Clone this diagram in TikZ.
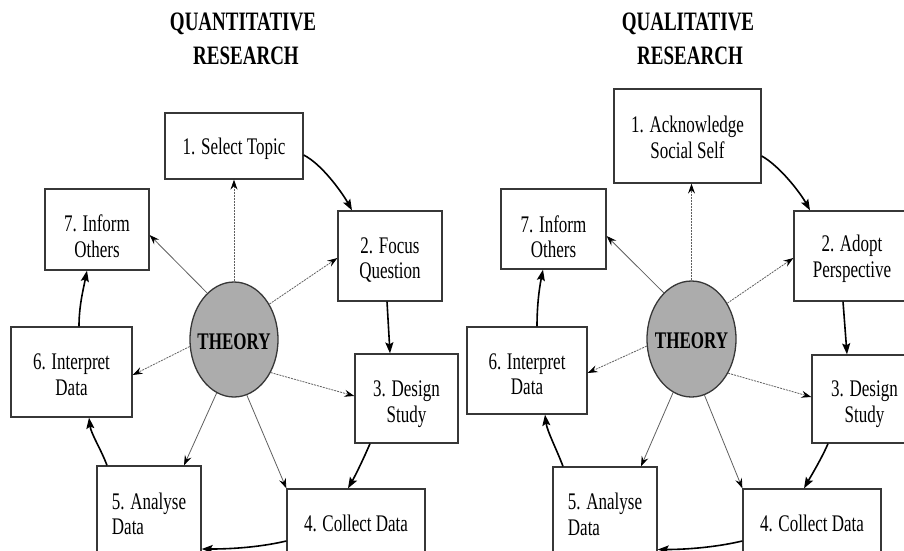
\documentclass[tikz,border=0pt]{standalone}
\usepackage{fontspec}
\usepackage{graphicx}
\setmainfont{Liberation Serif}
\usetikzlibrary{shapes.geometric,arrows.meta,calc}
\newcommand\vs[1]{\scalebox{1}[1.4]{#1}}
\newcommand\tx[1]{\scalebox{1}[1.4]{\begin{tabular}{@{}c@{}}#1\end{tabular}}}
\newcommand\txl[1]{\scalebox{1}[1.4]{\begin{tabular}{@{}l@{}}#1\end{tabular}}}
\definecolor{boxc}{RGB}{55,55,55}
\definecolor{thfill}{RGB}{172,172,172}
\definecolor{thc}{RGB}{95,95,95}
\begin{document}
\begin{tikzpicture}[x=1pt,y=-1pt,
  box/.style={draw=boxc, line width=1.3pt, fill=white, inner sep=0pt},
  txt/.style={inner sep=0pt, font=\fontsize{17}{17.9}\selectfont},
  ttl/.style={inner sep=0pt, font=\fontsize{19}{20}\selectfont\bfseries},
  theo/.style={ellipse, draw=boxc, line width=1.3pt, fill=thfill, inner sep=0pt},
  thr/.style={draw=thc, line width=0.8pt, -{Stealth[length=10pt,width=7pt,inset=3.5pt,black]}},
  thrd/.style={thr, dash pattern=on 2pt off 1pt},
  cyc/.style={draw=black, line width=1.6pt, -{Stealth[length=11pt,width=8pt,inset=2pt]}}]
\useasboundingbox (0,0) rectangle (904,550);
\clip (0,0) rectangle (904,550);

% titles
\node[ttl] (q1) at (243,24) {\vs{QUANTITATIVE}};
\node[ttl] (q2) at (246,56) {\vs{RESEARCH}};
\node[ttl] (l1) at (688,24) {\vs{QUALITATIVE}};
\node[ttl] (l2) at (690,56) {\vs{RESEARCH}};

% ---------- left diagram ----------
\node[box, minimum width=138pt, minimum height=66pt] (b1) at (234,146) {};
\node[box, minimum width=104pt, minimum height=81pt] (b7) at (97,229.5) {};
\node[box, minimum width=104pt, minimum height=90pt] (b2) at (390,256) {};
\node[box, minimum width=121pt, minimum height=90pt] (b6) at (71.5,372) {};
\node[box, minimum width=103pt, minimum height=89pt] (b3) at (406.5,398.5) {};
\node[box, minimum width=104pt, minimum height=96pt] (b5) at (149,514) {};
\node[box, minimum width=138pt, minimum height=68pt] (b4) at (356,523) {};
\node[theo, minimum width=88pt, minimum height=115pt] (th) at (234,339.5) {};

\node[txt] (t1) at ($(b1)+(0,3)$) {\tx{1. Select Topic}};
\node[txt] (t7) at ($(b7)+(0,10)$) {\tx{7. Inform\\Others}};
\node[txt] (t2) at ($(b2)+(0,5)$) {\tx{2. Focus\\Question}};
\node[txt] (t6) at ($(b6)+(0,5.5)$) {\tx{6. Interpret\\Data}};
\node[txt] (t3) at ($(b3)+(0,6)$) {\tx{3. Design\\Study}};
\node[txt] (t5) at ($(b5)+(0,3)$) {\txl{5. Analyse\\Data}};
\node[txt] (t4) at ($(b4)+(0,3)$) {\tx{4. Collect Data}};
\node[txt, font=\fontsize{17}{18}\selectfont\bfseries] (tth) at ($(th)+(0,2)$) {\vs{THEORY}};

\draw[thrd] (th.north) -- (th.north |- b1.south);
\draw[thr]  (th.120) -- ($(b7.east)+(0,5.5)$);
\draw[thrd] (th.45) -- ($(b2.west)+(0,2)$);
\draw[thrd] (th.189) -- ($(b6.east)+(0,3)$);
\draw[thrd] (th.-42) -- ($(b3.west)+(0,-2.5)$);
\draw[thr]  (th.-108) -- ($(b5.north)+(35,0)$);
\draw[thr]  (th.-77) -- (b4.north west);

\draw[cyc] ($(b1.east)+(0,9)$) .. controls +(18,9) and +(-10,-18) .. ($(b2.north)+(-38,0)$);
\draw[cyc] ($(b2.south)+(-3,0)$) -- ($(b3.north)+(-16.5,0)$);
\draw[cyc] ($(b3.south)+(-36.5,0)$) .. controls +(-6,14) and +(8,-14) .. ($(b4.north)+(-8,0)$);
\draw[cyc] ($(b4.west)+(0,18)$) .. controls +(-30,7) and +(25,0) .. ($(b5.east)+(0,35)$);
\draw[cyc] ($(b5.north)+(-42,0)$) .. controls +(-6,-16) and +(2,16) .. ($(b6.south)+(17.5,0)$);
\draw[cyc] ($(b6.north)+(7.5,0)$) .. controls +(0,-20) and +(-4,20) .. ($(b7.south)+(-10,0)$);

% ---------- right diagram ----------
\node[box, minimum width=147pt, minimum height=94pt] (B1) at (687.5,136) {};
\node[box, minimum width=105pt, minimum height=80pt] (B7) at (553.5,229) {};
\node[box, minimum width=116pt, minimum height=90pt] (B2) at (852,256) {};
\node[box, minimum width=120pt, minimum height=87pt] (B6) at (527,370.5) {};
\node[box, minimum width=105pt, minimum height=88pt] (B3) at (864.5,399) {};
\node[box, minimum width=104pt, minimum height=95pt] (B5) at (605,514.5) {};
\node[box, minimum width=138pt, minimum height=68pt] (B4) at (812,523) {};
\node[theo, minimum width=89pt, minimum height=116pt] (TH) at (691.5,339) {};

\node[txt] (T1) at ($(B1)+(0,4.5)$) {\tx{1. Acknowledge\\Social Self}};
\node[txt] (T7) at ($(B7)+(0,11)$) {\tx{7. Inform\\Others}};
\node[txt] (T2) at ($(B2)+(0,3.5)$) {\tx{2. Adopt\\Perspective}};
\node[txt] (T6) at ($(B6)+(0,6.5)$) {\tx{6. Interpret\\Data}};
\node[txt] (T3) at ($(B3)+(0,5.5)$) {\tx{3. Design\\Study}};
\node[txt] (T5) at ($(B5)+(0,3)$) {\txl{5. Analyse\\Data}};
\node[txt] (T4) at ($(B4)+(0,3)$) {\tx{4. Collect Data}};
\node[txt, font=\fontsize{17}{18}\selectfont\bfseries] (TTH) at ($(TH)+(0,2)$) {\vs{THEORY}};

\draw[thrd] (TH.north) -- (TH.north |- B1.south);
\draw[thr]  (TH.121) -- ($(B7.east)+(0,7)$);
\draw[thrd] (TH.45) -- ($(B2.west)+(0,2)$);
\draw[thrd] (TH.189) -- ($(B6.east)+(0,2.5)$);
\draw[thrd] (TH.-43) -- ($(B3.west)+(0,-2)$);
\draw[thr]  (TH.-109) -- ($(B5.north)+(36,0)$);
\draw[thr]  (TH.-77) -- (B4.north west);

\draw[cyc] ($(B1.east)+(0,20)$) .. controls +(18,10) and +(-10,-18) .. ($(B2.north)+(-42,0)$);
\draw[cyc] ($(B2.south)+(-9,0)$) -- ($(B3.north)+(-17.5,0)$);
\draw[cyc] ($(B3.south)+(-36.5,0)$) .. controls +(-6,14) and +(8,-14) .. ($(B4.north)+(-8,0)$);
\draw[cyc] ($(B4.west)+(0,18)$) .. controls +(-30,7) and +(25,0) .. ($(B5.east)+(0,35)$);
\draw[cyc] ($(B5.north)+(-42,0)$) .. controls +(-6,-16) and +(2,16) .. ($(B6.south)+(18,0)$);
\draw[cyc] ($(B6.north)+(10,0)$) .. controls +(0,-20) and +(-4,20) .. ($(B7.south)+(-10.5,0)$);
\end{tikzpicture}
\end{document}
